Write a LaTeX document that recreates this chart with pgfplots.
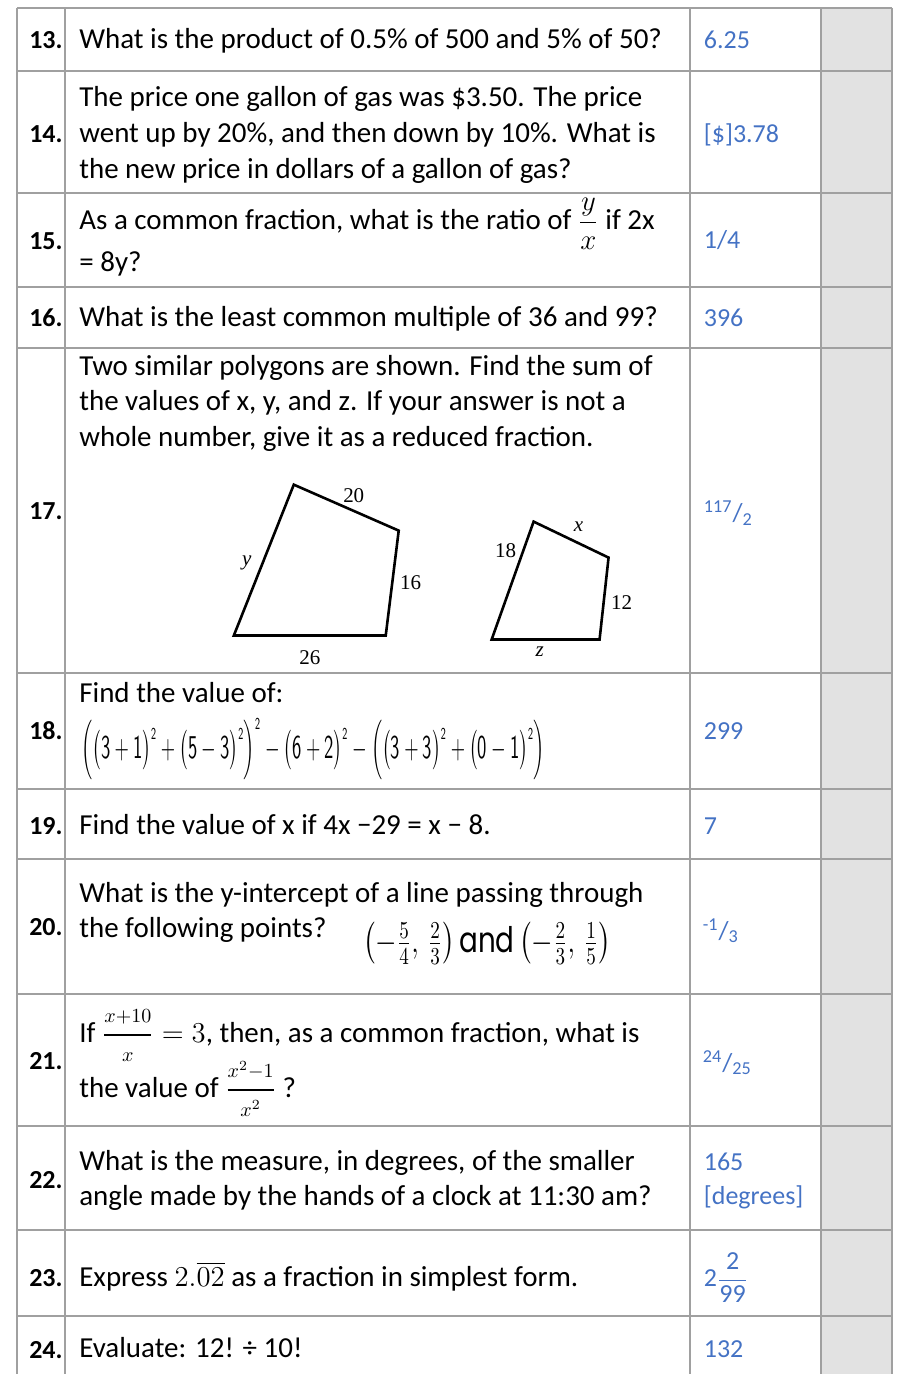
\documentclass[border=0pt]{standalone}
\usepackage{amsmath}
\usepackage{graphicx}
\usepackage{pgfplots}
\pgfplotsset{compat=1.18}
\usepackage{fontspec}
\setmainfont{Carlito}
\newfontfamily\poppins{Poppins}
\newfontfamily\timesf{Liberation Serif}
\definecolor{ansblue}{RGB}{68,114,196}
\definecolor{linegray}{RGB}{160,160,160}
\definecolor{cellgray}{RGB}{226,226,226}
\newcommand\qfont{\fontsize{14.5}{18}\selectfont}
\newcommand\nfont{\fontsize{13}{16}\selectfont\bfseries}
\newcommand\afont{\fontsize{13}{16}\selectfont}
\newcommand\lfont{\timesf\fontsize{10.5}{12}\selectfont}
\newcommand\sq{^{\scriptscriptstyle\mathsf{2}}}
\tikzset{
  q/.style={anchor=base west, inner sep=0pt, font=\qfont},
  n/.style={anchor=base east, inner sep=0pt, font=\nfont},
  a/.style={anchor=base west, inner sep=0pt, font=\afont, text=ansblue},
  lb/.style={anchor=center, inner sep=0pt, font=\lfont},
}
\begin{document}
\begin{tikzpicture}
\begin{axis}[scale only axis, width=448.5pt, height=687.5pt,
  xmin=0, xmax=897, ymin=0, ymax=1375, y dir=reverse,
  hide axis, clip=false, no markers]
% frame extent
\addplot[draw=none] coordinates {(0,0) (897,1375)};
% gray column
\addplot[fill=cellgray, draw=none] coordinates {(822,8) (893,8) (893,1375) (822,1375)} --cycle;
% horizontal rules
\addplot[linegray, line width=1pt] coordinates {(17,8) (893,8)};
\addplot[linegray, line width=1pt] coordinates {(17,71) (893,71)};
\addplot[linegray, line width=1pt] coordinates {(17,193) (893,193)};
\addplot[linegray, line width=1pt] coordinates {(17,287) (893,287)};
\addplot[linegray, line width=1pt] coordinates {(17,348) (893,348)};
\addplot[linegray, line width=1pt] coordinates {(17,673) (893,673)};
\addplot[linegray, line width=1pt] coordinates {(17,790) (893,790)};
\addplot[linegray, line width=1pt] coordinates {(17,860) (893,860)};
\addplot[linegray, line width=1pt] coordinates {(17,995) (893,995)};
\addplot[linegray, line width=1pt] coordinates {(17,1127) (893,1127)};
\addplot[linegray, line width=1pt] coordinates {(17,1231) (893,1231)};
\addplot[linegray, line width=1pt] coordinates {(17,1317) (893,1317)};
% vertical rules
\addplot[linegray, line width=1pt] coordinates {(17,8) (17,1375)};
\addplot[linegray, line width=1pt] coordinates {(65,8) (65,1375)};
\addplot[linegray, line width=1pt] coordinates {(690,8) (690,1375)};
\addplot[linegray, line width=1pt] coordinates {(822,8) (822,1375)};
\addplot[linegray, line width=1pt] coordinates {(893,8) (893,1375)};
% polygons (row 17)
\addplot[black, line width=1.3pt, line join=miter] coordinates {(294,485) (399,531) (386,636) (234,636)} --cycle;
\addplot[black, line width=1.3pt, line join=miter] coordinates {(534,522) (609,558) (600,640) (492,640)} --cycle;
\node[lb] at (axis cs:354,496) {20};
\node[lb] at (axis cs:247,563) {\itshape y};
\node[lb] at (axis cs:411,583) {16};
\node[lb] at (axis cs:310,658) {26};
\node[lb] at (axis cs:579,527) {\itshape x};
\node[lb] at (axis cs:506,551) {18};
\node[lb] at (axis cs:622,603) {12};
\node[lb] at (axis cs:540,652) {\itshape z};
% numbers
\node[n] at (axis cs:63,49) {13.};
\node[n] at (axis cs:63,143) {14.};
\node[n] at (axis cs:63,250) {15.};
\node[n] at (axis cs:63,327) {16.};
\node[n] at (axis cs:63,520) {17.};
\node[n] at (axis cs:63,740) {18.};
\node[n] at (axis cs:63,835) {19.};
\node[n] at (axis cs:63,936) {20.};
\node[n] at (axis cs:63,1070) {21.};
\node[n] at (axis cs:63,1189) {22.};
\node[n] at (axis cs:63,1287) {23.};
\node[n] at (axis cs:63,1359) {24.};
% questions
\node[q] at (axis cs:79,49) {What is the product of 0.5\% of 500 and 5\% of 50?};
\node[q] at (axis cs:79,107) {The price one gallon of gas was \$3.50. The price};
\node[q] at (axis cs:79,143) {went up by 20\%, and then down by 10\%. What is};
\node[q] at (axis cs:79,179) {the new price in dollars of a gallon of gas?};
\node[q] at (axis cs:79,230) {As a common fraction, what is the ratio of $\dfrac{y}{x}$ if 2x};
\node[q] at (axis cs:79,272) {= 8y?};
\node[q] at (axis cs:79,327) {What is the least common multiple of 36 and 99?};
\node[q] at (axis cs:79,376) {Two similar polygons are shown. Find the sum of};
\node[q] at (axis cs:79,411) {the values of x, y, and z. If your answer is not a};
\node[q] at (axis cs:79,447) {whole number, give it as a reduced fraction.};
\node[q] at (axis cs:79,703) {Find the value of:};
\node[q] at (axis cs:81,759) {\resizebox*{232pt}{31pt}{$\Bigl(\bigl(\mathsf{3}+\mathsf{1}\bigr)\sq+\bigl(\mathsf{5}-\mathsf{3}\bigr)\sq\Bigr)\sq-\bigl(\mathsf{6}+\mathsf{2}\bigr)\sq-\Bigl(\bigl(\mathsf{3}+\mathsf{3}\bigr)\sq+\bigl(\mathsf{0}-\mathsf{1}\bigr)\sq\Bigr)$}};
\node[q] at (axis cs:79,835) {Find the value of x if 4x −29 = x − 8.};
\node[q] at (axis cs:79,903) {What is the y-intercept of a line passing through};
\node[q] at (axis cs:79,938) {the following points?};
\node[q] at (axis cs:363,953) {\resizebox*{124pt}{21pt}{$\left(-\tfrac{5}{4},\,\tfrac{2}{3}\right)$\,{\poppins and}\,$\left(-\tfrac{2}{3},\,\tfrac{1}{5}\right)$}};
\node[q] at (axis cs:79,1043) {If $\dfrac{\scriptstyle x+10}{\scriptstyle x}=3$, then, as a common fraction, what is};
\node[q] at (axis cs:79,1098) {the value of $\dfrac{\scriptstyle x^{2}-1}{\scriptstyle x^{2}}$ ?};
\node[q] at (axis cs:79,1171) {What is the measure, in degrees, of the smaller};
\node[q] at (axis cs:79,1206) {angle made by the hands of a clock at 11:30 am?};
\node[q] at (axis cs:79,1287) {Express $2.\overline{02}$ as a fraction in simplest form.};
\node[q] at (axis cs:79,1358) {Evaluate: 12! ÷ 10!};
% answers
\node[a] at (axis cs:704,49) {6.25};
\node[a] at (axis cs:704,143) {[\$]3.78};
\node[a] at (axis cs:704,249) {1/4};
\node[a] at (axis cs:704,327) {396};
\node[a] at (axis cs:704,522) {\textsuperscript{117}/\textsubscript{2}};
\node[a] at (axis cs:704,740) {299};
\node[a] at (axis cs:704,835) {7};
\node[a] at (axis cs:703,940) {\textsuperscript{-1}/\textsubscript{3}};
\node[a] at (axis cs:703,1072) {\textsuperscript{24}/\textsubscript{25}};
\node[a] at (axis cs:704,1171) {165};
\node[a] at (axis cs:704,1205) {[degrees]};
\node[a] at (axis cs:704,1287) {2$\dfrac{\text{2}}{\text{99}}$};
\node[a] at (axis cs:704,1358) {132};
\end{axis}
\end{tikzpicture}
\end{document}
